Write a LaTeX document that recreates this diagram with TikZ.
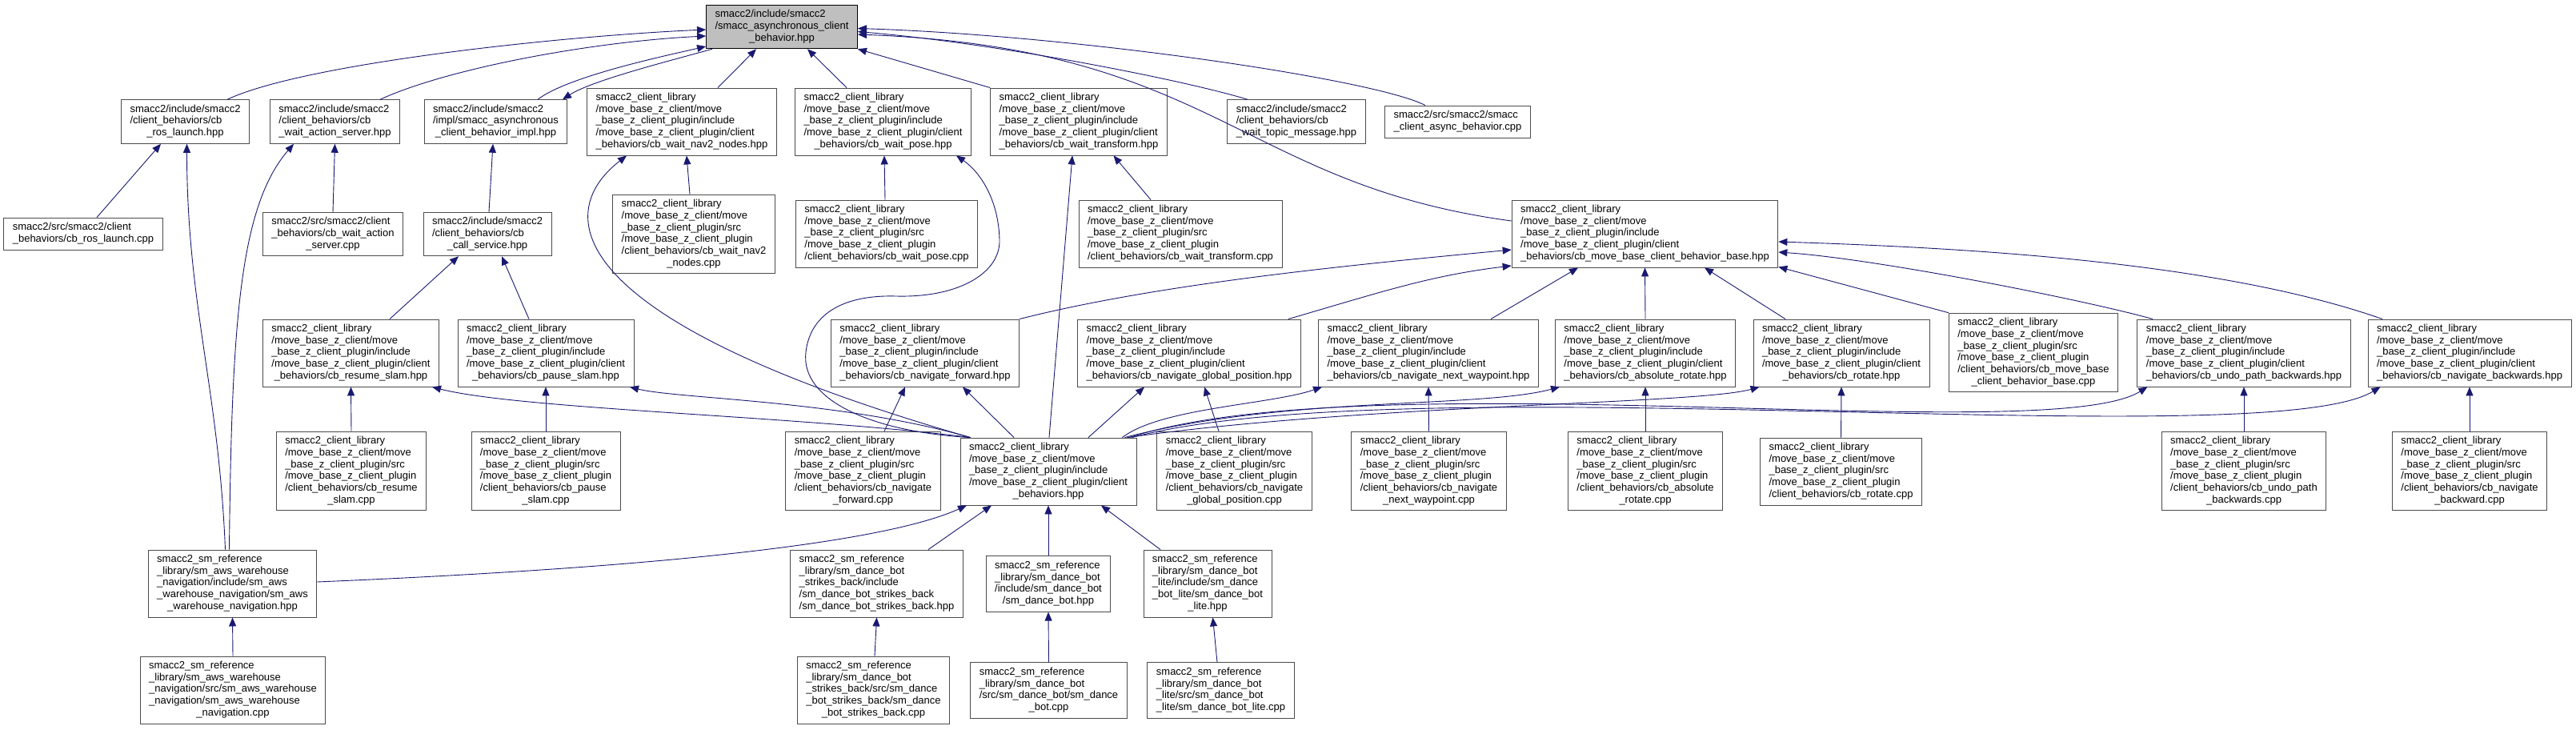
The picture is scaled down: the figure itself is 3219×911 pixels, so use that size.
\documentclass[tikz,border=0pt]{standalone}
\usepackage{fontspec}
\setmainfont{Liberation Sans}
\usetikzlibrary{arrows.meta}
\definecolor{edgeblue}{RGB}{25,25,112}
\newcommand{\fsz}{\fontsize{13}{14.7}\selectfont}
\newcommand{\flines}[2]{\begin{tabular}{@{}l@{}}#1\\\multicolumn{1}{@{}c@{}}{#2}\end{tabular}}
\newcommand{\incpre}{smacc2\_client\_library\\/move\_base\_z\_client/move\\\_base\_z\_client\_plugin/include\\/move\_base\_z\_client\_plugin/client}
\newcommand{\srcpre}{smacc2\_client\_library\\/move\_base\_z\_client/move\\\_base\_z\_client\_plugin/src\\/move\_base\_z\_client\_plugin}

\begin{document}
\begin{tikzpicture}[x=1pt, y=-1pt,
    inc/.style={draw=black!70, line width=0.9pt, fill=white, inner xsep=11pt, inner ysep=5.25pt, font=\fsz},
    rootinc/.style={inc, draw=black, fill=black!25},
    dep/.style={draw=edgeblue, line width=0.9pt, -{Triangle[length=11pt,width=9pt]}}]
        \useasboundingbox (0,0) rectangle (3219,911);
        % top row
        \node[rootinc] (asyncbeh) at (977,33.5) {\flines{smacc2/include/smacc2\\/smacc\_asynchronous\_client}{\_behavior.hpp}};
        \node[inc] (roslaunch) at (231.5,152) {\flines{smacc2/include/smacc2\\/client\_behaviors/cb}{\_ros\_launch.hpp}};
        \node[inc] (waitact) at (418.5,152) {\flines{smacc2/include/smacc2\\/client\_behaviors/cb}{\_wait\_action\_server.hpp}};
        \node[inc] (asyncimpl) at (619.5,152) {\flines{smacc2/include/smacc2\\/impl/smacc\_asynchronous}{\_client\_behavior\_impl.hpp}};
        \node[inc] (waitnav) at (852,152) {\flines{\incpre}{\_behaviors/cb\_wait\_nav2\_nodes.hpp}};
        \node[inc] (waitpose) at (1103.5,152) {\flines{\incpre}{\_behaviors/cb\_wait\_pose.hpp}};
        \node[inc] (waittf) at (1348,152) {\flines{\incpre}{\_behaviors/cb\_wait\_transform.hpp}};
        \node[inc] (waittopic) at (1620,152) {\flines{smacc2/include/smacc2\\/client\_behaviors/cb}{\_wait\_topic\_message.hpp}};
        \node[inc] (asynccpp) at (1821.5,152) {\flines{smacc2/src/smacc2/smacc}{\_client\_async\_behavior.cpp}};
        % second row
        \node[inc] (roslaunchcpp) at (104,292) {\flines{smacc2/src/smacc2/client}{\_behaviors/cb\_ros\_launch.cpp}};
        \node[inc] (waitactcpp) at (416,292.5) {\flines{smacc2/src/smacc2/client\\\_behaviors/cb\_wait\_action}{\_server.cpp}};
        \node[inc] (callsrv) at (609,292.5) {\flines{smacc2/include/smacc2\\/client\_behaviors/cb}{\_call\_service.hpp}};
        \node[inc] (waitnavcpp) at (867,292.5) {\flines{\srcpre\\/client\_behaviors/cb\_wait\_nav2}{\_nodes.cpp}};
        \node[inc] (waitposecpp) at (1108,292) {\flines{\srcpre}{/client\_behaviors/cb\_wait\_pose.cpp}};
        \node[inc] (waittfcpp) at (1475,292) {\flines{\srcpre}{/client\_behaviors/cb\_wait\_transform.cpp}};
        \node[inc] (mbbase) at (2055.5,292) {\flines{\incpre}{\_behaviors/cb\_move\_base\_client\_behavior\_base.hpp}};
        % third row
        \node[inc] (resumeslam) at (438.5,441) {\flines{\incpre}{\_behaviors/cb\_resume\_slam.hpp}};
        \node[inc] (pauseslam) at (682,441) {\flines{\incpre}{\_behaviors/cb\_pause\_slam.hpp}};
        \node[inc] (navfwd) at (1156,441) {\flines{\incpre}{\_behaviors/cb\_navigate\_forward.hpp}};
        \node[inc] (navglobal) at (1486,441) {\flines{\incpre}{\_behaviors/cb\_navigate\_global\_position.hpp}};
        \node[inc] (navnext) at (1785,441) {\flines{\incpre}{\_behaviors/cb\_navigate\_next\_waypoint.hpp}};
        \node[inc] (absrot) at (2056,441) {\flines{\incpre}{\_behaviors/cb\_absolute\_rotate.hpp}};
        \node[inc] (rotate) at (2301,441) {\flines{\incpre}{\_behaviors/cb\_rotate.hpp}};
        \node[inc] (mbbasecpp) at (2541,440.5) {\flines{\srcpre\\/client\_behaviors/cb\_move\_base}{\_client\_behavior\_base.cpp}};
        \node[inc] (undopath) at (2804,441) {\flines{\incpre}{\_behaviors/cb\_undo\_path\_backwards.hpp}};
        \node[inc] (navback) at (3086,441) {\flines{\incpre}{\_behaviors/cb\_navigate\_backwards.hpp}};
        % fourth row
        \node[inc] (resumecpp) at (439,588.5) {\flines{\srcpre\\/client\_behaviors/cb\_resume}{\_slam.cpp}};
        \node[inc] (pausecpp) at (682,588.5) {\flines{\srcpre\\/client\_behaviors/cb\_pause}{\_slam.cpp}};
        \node[inc] (navfwdcpp) at (1078.5,588.5) {\flines{\srcpre\\/client\_behaviors/cb\_navigate}{\_forward.cpp}};
        \node[inc] (clientbeh) at (1310,589) {\flines{\incpre}{\_behaviors.hpp}};
        \node[inc] (navglobalcpp) at (1542.5,588.5) {\flines{\srcpre\\/client\_behaviors/cb\_navigate}{\_global\_position.cpp}};
        \node[inc] (navnextcpp) at (1785.5,588.5) {\flines{\srcpre\\/client\_behaviors/cb\_navigate}{\_next\_waypoint.cpp}};
        \node[inc] (absrotcpp) at (2056,588.5) {\flines{\srcpre\\/client\_behaviors/cb\_absolute}{\_rotate.cpp}};
        \node[inc] (rotatecpp) at (2300.5,589) {\flines{\srcpre}{/client\_behaviors/cb\_rotate.cpp}};
        \node[inc] (undopathcpp) at (2804,588.5) {\flines{\srcpre\\/client\_behaviors/cb\_undo\_path}{\_backwards.cpp}};
        \node[inc] (navbackcpp) at (3086,588.5) {\flines{\srcpre\\/client\_behaviors/cb\_navigate}{\_backward.cpp}};
        % state machines
        \node[inc] (awsnav) at (290.5,729) {\flines{smacc2\_sm\_reference\\\_library/sm\_aws\_warehouse\\\_navigation/include/sm\_aws\\\_warehouse\_navigation/sm\_aws}{\_warehouse\_navigation.hpp}};
        \node[inc] (awsnavcpp) at (291,862) {\flines{smacc2\_sm\_reference\\\_library/sm\_aws\_warehouse\\\_navigation/src/sm\_aws\_warehouse\\\_navigation/sm\_aws\_warehouse}{\_navigation.cpp}};
        \node[inc] (dbsb) at (1095.5,729) {\flines{smacc2\_sm\_reference\\\_library/sm\_dance\_bot\\\_strikes\_back/include\\/sm\_dance\_bot\_strikes\_back}{/sm\_dance\_bot\_strikes\_back.hpp}};
        \node[inc] (dancebot) at (1310,729.5) {\flines{smacc2\_sm\_reference\\\_library/sm\_dance\_bot\\/include/sm\_dance\_bot}{/sm\_dance\_bot.hpp}};
        \node[inc] (dblite) at (1509,729) {\flines{smacc2\_sm\_reference\\\_library/sm\_dance\_bot\\\_lite/include/sm\_dance\\\_bot\_lite/sm\_dance\_bot}{\_lite.hpp}};
        \node[inc] (dbsbcpp) at (1091.5,862) {\flines{smacc2\_sm\_reference\\\_library/sm\_dance\_bot\\\_strikes\_back/src/sm\_dance\\\_bot\_strikes\_back/sm\_dance}{\_bot\_strikes\_back.cpp}};
        \node[inc] (dancebotcpp) at (1310.5,862.5) {\flines{smacc2\_sm\_reference\\\_library/sm\_dance\_bot\\/src/sm\_dance\_bot/sm\_dance}{\_bot.cpp}};
        \node[inc] (dblitecpp) at (1525.5,862.5) {\flines{smacc2\_sm\_reference\\\_library/sm\_dance\_bot\\\_lite/src/sm\_dance\_bot}{\_lite/sm\_dance\_bot\_lite.cpp}};
        % includes of the root header
        \draw[dep] ([xshift=52.5pt]roslaunch.north) .. controls +(96,-45) and +(-182,8) .. ([yshift=-3.5pt]asyncbeh.west);
        \draw[dep] ([xshift=56.5pt]waitact.north) .. controls +(85,-39) and +(-142,7) .. ([yshift=-11.5pt]asyncbeh.west);
        \draw[dep] ([xshift=52.5pt]asyncimpl.north) .. controls +(38,-29) and +(-52,12) .. ([yshift=-24.5pt]asyncbeh.west);
        \draw[dep] ([xshift=-87pt]asyncbeh.south) .. controls +(-50,14) and +(37,-24) .. ([xshift=83.5pt]asyncimpl.north);
        \draw[dep] ([xshift=45pt]waitnav.north) -- ([xshift=-32pt]asyncbeh.south);
        \draw[dep] ([xshift=-45.5pt]waitpose.north) -- ([xshift=32pt]asyncbeh.south);
        \draw[dep] (waittf.north west) -- (asyncbeh.south east);
        \draw[dep] ([xshift=-61pt]waittopic.north) .. controls +(-79,-24) and +(178,15) .. ([yshift=-6pt]asyncbeh.east);
        \draw[dep] ([xshift=-40.5pt]asynccpp.north) .. controls +(-61,-32) and +(278,9) .. ([yshift=-2pt]asyncbeh.east);
        \draw[dep] ([yshift=16pt]mbbase.west) .. controls +(-340,-46) and +(448,17) .. ([yshift=-9.5pt]asyncbeh.east);
        % left branch
        \draw[dep] ([xshift=17pt]roslaunchcpp.north) -- ([xshift=-30.5pt]roslaunch.south);
        \draw[dep] (waitactcpp.north) -- (waitact.south);
        \draw[dep] ([xshift=2pt]callsrv.north) -- ([xshift=-3.5pt]asyncimpl.south);
        \draw[dep] ([xshift=48.5pt]resumeslam.north) -- ([xshift=-36pt]callsrv.south);
        \draw[dep] ([xshift=-21pt]pauseslam.north) -- ([xshift=18pt]callsrv.south);
        \draw[dep] (resumecpp.north) -- (resumeslam.south);
        \draw[dep] (pausecpp.north) -- (pauseslam.south);
        \draw[dep] ([xshift=-9pt]awsnav.north) .. controls +(-8,-200) and +(0,200) .. ([xshift=2pt]roslaunch.south);
        \draw[dep] ([xshift=-4pt]awsnav.north) .. controls +(3,-287) and +(-67,78) .. ([xshift=-51.5pt]waitact.south);
        \draw[dep] ([yshift=2pt]awsnav.east) .. controls +(404,-17) and +(-108,49) .. ([xshift=-102pt]clientbeh.south);
        \draw[dep] (awsnavcpp.north) -- (awsnav.south);
        % wait_* sources
        \draw[dep] ([xshift=-5pt]waitnavcpp.north) -- ([xshift=6pt]waitnav.south);
        \draw[dep] ([xshift=-2pt]waitposecpp.north) -- ([xshift=1.5pt]waitpose.south);
        \draw[dep] ([xshift=-37pt]waittfcpp.north) -- ([xshift=43.5pt]waittf.south);
        % client_behaviors.hpp includes
        \draw[dep] ([xshift=13pt]clientbeh.north west) .. controls +(-213,-27) and +(110,28) .. ([xshift=101.5pt]resumeslam.south);
        \draw[dep] ([xshift=13pt]clientbeh.north west) .. controls +(-163,-47) and +(60,15) .. ([xshift=105pt]pauseslam.south);
        \draw[dep] ([xshift=13pt]clientbeh.north west) .. controls +(-513,-147) and +(-93,72) .. ([xshift=-69pt]waitnav.south);
        \draw[dep] ([xshift=13pt]clientbeh.north west) .. controls +(-123,-7) and (1000,500) .. (1007,440)
            .. controls (1012,395) and (1050,368) .. (1120,370) .. controls (1200,372) and (1250,340) .. (1249,300)
            .. controls (1248,250) and (1225,215) .. ([xshift=91.5pt]waitpose.south);
        \draw[dep] ([xshift=1pt]clientbeh.north) -- ([xshift=-8pt]waittf.south);
        \draw[dep] ([xshift=-43pt]clientbeh.north) -- ([xshift=47pt]navfwd.south);
        \draw[dep] ([xshift=50pt]clientbeh.north) -- ([xshift=-56pt]navglobal.south);
        \draw[dep] ([xshift=-18pt]clientbeh.north east) .. controls +(48,-37) and +(-64,22) .. ([xshift=5pt]navnext.south west);
        \draw[dep] ([xshift=-15pt]clientbeh.north east) .. controls +(200,-52) and +(-101,27) .. ([xshift=6pt]absrot.south west);
        \draw[dep] ([xshift=-12pt]clientbeh.north east) .. controls +(298,-42) and +(-79,22) .. ([xshift=8pt]rotate.south west);
        \draw[dep] ([xshift=-9pt]clientbeh.north east) .. controls +(298,-97) and +(-125,77) .. ([xshift=13pt]undopath.south west);
        \draw[dep] ([xshift=-6pt]clientbeh.north east) .. controls +(348,-92) and +(-145,87) .. ([xshift=16pt]navback.south west);
        \draw[dep] ([xshift=26.5pt]navfwdcpp.north) -- ([xshift=-25pt]navfwd.south);
        \draw[dep] ([xshift=-19.5pt]navglobalcpp.north) -- ([xshift=19pt]navglobal.south);
        % move_base client behavior base
        \draw[dep] (navfwd.north east) .. controls +(177,-45) and +(-190,18) .. ([yshift=-20pt]mbbase.west);
        \draw[dep] ([xshift=124pt]navglobal.north) .. controls +(120,-35) and +(-100,12) .. ([yshift=-40pt]mbbase.west);
        \draw[dep] ([xshift=78pt]navnext.north) -- ([xshift=-83.5pt]mbbase.south);
        \draw[dep] (absrot.north) -- (mbbase.south);
        \draw[dep] ([xshift=-70pt]rotate.north) -- ([xshift=74.5pt]mbbase.south);
        \draw[dep] (mbbasecpp.north west) -- ([yshift=1pt]mbbase.south east);
        \draw[dep] ([xshift=-114pt]undopath.north) .. controls +(-90,-25) and +(120,8) .. ([yshift=-23pt]mbbase.east);
        \draw[dep] ([xshift=-109pt]navback.north) .. controls +(-200,-70) and +(250,8) .. ([yshift=-10pt]mbbase.east);
        \draw[dep] (navnextcpp.north) -- (navnext.south);
        \draw[dep] (absrotcpp.north) -- (absrot.south);
        \draw[dep] (rotatecpp.north) -- (rotate.south);
        \draw[dep] (undopathcpp.north) -- (undopath.south);
        \draw[dep] (navbackcpp.north) -- (navback.south);
        % dance bot state machines
        \draw[dep] ([xshift=64.5pt]dbsb.north) -- ([xshift=-71pt]clientbeh.south);
        \draw[dep] (dancebot.north) -- (clientbeh.south);
        \draw[dep] ([xshift=-59pt]dblite.north) -- ([xshift=66pt]clientbeh.south);
        \draw[dep] ([xshift=1.5pt]dbsbcpp.north) -- (dbsb.south);
        \draw[dep] (dancebotcpp.north) -- (dancebot.south);
        \draw[dep] ([xshift=-4.5pt]dblitecpp.north) -- ([xshift=6.5pt]dblite.south);
\end{tikzpicture}
\end{document}
